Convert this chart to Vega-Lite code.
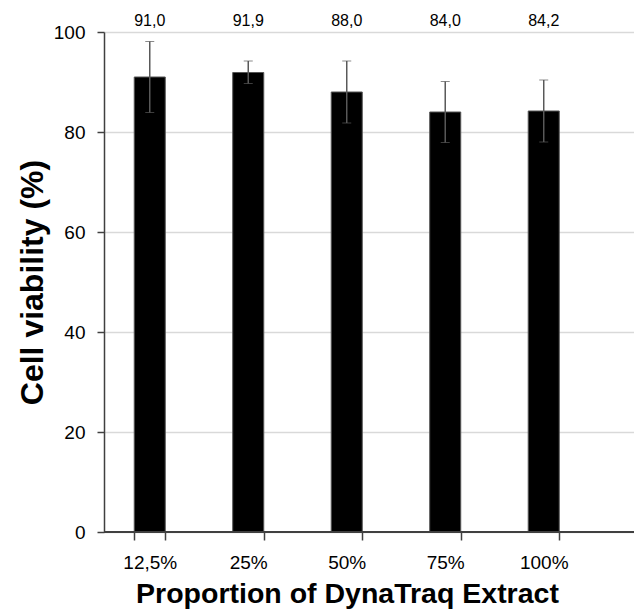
{
  "$schema": "https://vega.github.io/schema/vega-lite/v6.json",
  "width": 530,
  "height": 500,
  "autosize": "none",
  "padding": {"left": 104, "top": 32, "right": 0, "bottom": 82},
  "background": "white",
  "config": {
    "view": {"stroke": null},
    "font": "Liberation Sans",
    "axis": {"labelFont": "Liberation Sans", "titleFont": "Liberation Sans"}
  },
  "data": {
    "values": [
      {"cat": "12,5%", "mean": 91.0, "lo": 83.9, "hi": 98.1, "label": "91,0"},
      {"cat": "25%", "mean": 91.9, "lo": 89.7, "hi": 94.2, "label": "91,9"},
      {"cat": "50%", "mean": 88.0, "lo": 81.8, "hi": 94.2, "label": "88,0"},
      {"cat": "75%", "mean": 84.0, "lo": 77.9, "hi": 90.1, "label": "84,0"},
      {"cat": "100%", "mean": 84.2, "lo": 78.0, "hi": 90.4, "label": "84,2"}
    ]
  },
  "encoding": {
    "x": {
      "field": "cat",
      "type": "nominal",
      "sort": null,
      "scale": {"paddingInner": 0.685, "paddingOuter": 0.533, "align": 0.288},
      "axis": {
        "title": "Proportion of DynaTraq Extract",
        "titleFontSize": 28.5,
        "titleFontWeight": "bold",
        "titleColor": "black",
        "titlePadding": 7,
        "titleX": 243,
        "labelFontSize": 19,
        "labelColor": "black",
        "labelAngle": 0,
        "labelPadding": 13,
        "tickBand": "extent",
        "tickSize": 8,
        "tickColor": "#404040",
        "tickWidth": 1.5,
        "domain": false,
        "grid": false
      }
    }
  },
  "layer": [
    {
      "mark": {"type": "bar", "color": "black", "stroke": "#555555", "strokeWidth": 1},
      "encoding": {
        "y": {
          "field": "mean",
          "type": "quantitative",
          "title": "Cell viability (%)",
          "scale": {"domain": [0, 100]},
          "axis": {
            "titleFontSize": 32,
            "titleFontWeight": "bold",
            "titleColor": "black",
            "titlePadding": 4,
            "labelFontSize": 19,
            "labelColor": "black",
            "labelPadding": 12,
            "values": [0, 20, 40, 60, 80, 100],
            "tickSize": 7,
            "tickColor": "#404040",
            "tickWidth": 1.5,
            "domainColor": "#404040",
            "domainWidth": 1.5,
            "gridColor": "#d9d9d9",
            "gridWidth": 1.5
          }
        }
      }
    },
    {
      "mark": {"type": "errorbar", "ticks": {"size": 9, "color": "#595959", "strokeWidth": 1.5}, "rule": {"color": "#595959", "strokeWidth": 1.5}},
      "encoding": {
        "y": {"field": "lo", "type": "quantitative", "title": "Cell viability (%)"},
        "y2": {"field": "hi"}
      }
    },
    {
      "mark": {"type": "text", "fontSize": 16, "color": "black", "baseline": "bottom", "dy": -3},
      "encoding": {
        "y": {"datum": 100},
        "text": {"field": "label"}
      }
    },
    {
      "mark": {"type": "rule", "color": "#404040", "strokeWidth": 1.5},
      "encoding": {"y": {"datum": 0}, "x": null}
    }
  ]
}
